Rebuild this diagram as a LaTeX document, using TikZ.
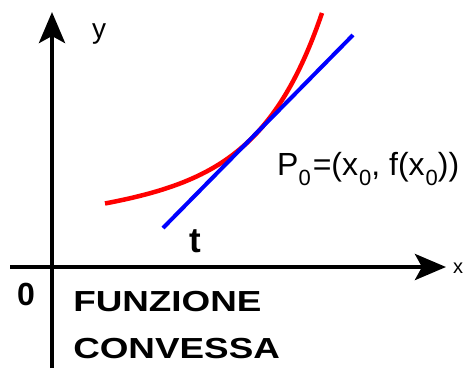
\documentclass[tikz,border=0pt]{standalone}
\usepackage{fontspec}
\setmainfont{Liberation Sans}
\usetikzlibrary{arrows.meta}
\newcommand{\pedice}[1]{\raisebox{-10pt}{\fontsize{22}{22}\selectfont #1}}

\begin{document}
\begin{tikzpicture}[x=1pt, y=-1pt,
      every node/.style={inner sep=0pt},
      asse/.style={line width=4.5pt, -{Stealth[length=31pt, width=26pt, inset=7pt]}},
      curva/.style={red, line width=4.5pt},
      tangente/.style={blue, line width=4pt},
      lettera/.style={anchor=base west, font=\fontsize{28}{28}\selectfont},
      titolo/.style={anchor=base west, xscale=1.27, font=\fontsize{29}{29}\selectfont\bfseries}
    ]
    \useasboundingbox (0,0) rectangle (466,368);
    % Assi cartesiani
    \coordinate (xmin) at (10,267);
    \coordinate (xmax) at (446,267);
    \coordinate (ymin) at (52,368);
    \coordinate (ymax) at (52,12);
    \draw[asse] (xmin) -- (xmax);
    \draw[asse] (ymin) -- (ymax);
    \node[lettera] (ly) at (92,38) {y};
    \node[lettera, font=\fontsize{20}{20}\selectfont] (lx) at (453,273) {x};
    \node[lettera, font=\fontsize{32}{32}\selectfont\bfseries] (zero) at (17,305) {0};
    % Funzione convessa e retta tangente in P0
    \draw[curva] plot[domain=-148:69, samples=80, smooth]
      ({253+\x}, {137-1.016*(\x)-54.9*(exp(0.0165*(\x))-1-0.0165*(\x))});
    \coordinate (t1) at (163,228);
    \coordinate (t2) at (353,35);
    \draw[tangente] (t1) -- (t2);
    \node[lettera, font=\fontsize{35}{35}\selectfont\bfseries] (lt) at (189,252) {t};
    \node[lettera, font=\fontsize{32}{32}\selectfont] (p0) at (277,175)
      {P\pedice{0}\kern2pt=(x\kern1pt\pedice{0}, f(x\kern1pt\pedice{0}))};
    % Titolo
    \node[titolo] (f1) at (73,311) {FUNZIONE};
    \node[titolo] (f2) at (73,358) {CONVESSA};
  \end{tikzpicture}
\end{document}
